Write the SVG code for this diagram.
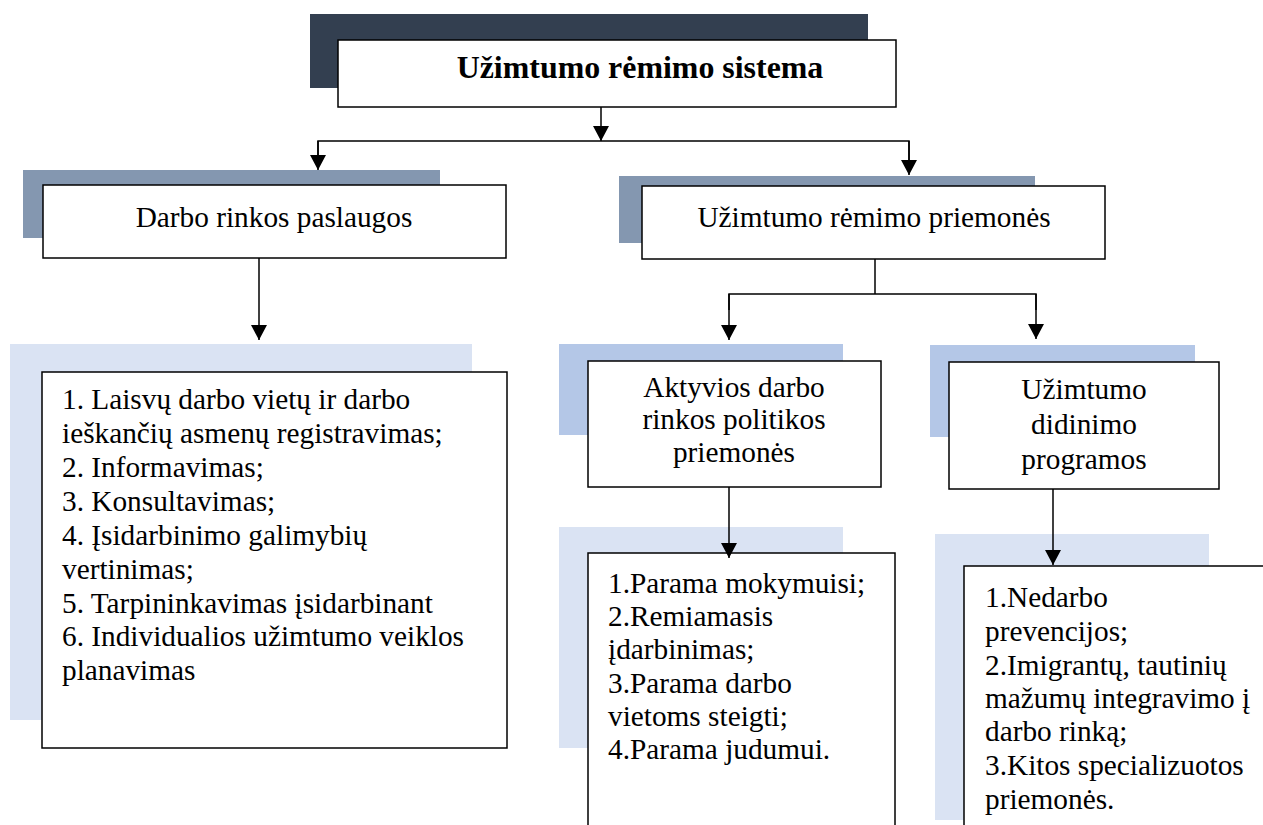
<svg xmlns="http://www.w3.org/2000/svg" width="1263" height="825" viewBox="0 0 1263 825">
<defs>
<marker id="arr" markerUnits="userSpaceOnUse" markerWidth="15" markerHeight="16" refX="15" refY="8" orient="auto" viewBox="0 0 15 16">
<path d="M0,0 L15,8 L0,16 Z" fill="#000"/>
</marker>
<style>
.box{fill:#fff;stroke:#000;stroke-width:1.5}
.sd{fill:#333f50}
.sm{fill:#8497b0}
.sl{fill:#dae3f3}
.sb{fill:#b4c7e7}
text{font-family:'Liberation Serif','Times New Roman',serif;fill:#000}
.t{font-size:29.3px}
.c{text-anchor:middle}
.ttl{font-size:31.9px;font-weight:bold;text-anchor:middle}
.ln{stroke:#000;stroke-width:1.5;fill:none}
.la{stroke:#000;stroke-width:1.5;fill:none;marker-end:url(#arr)}
</style>
</defs>
<rect width="1263" height="825" fill="#fff"/>

<g id="connectors">
<line class="la" x1="601" y1="107" x2="601" y2="141"/>
<polyline class="ln" points="318,156 318,141 909,141 909,160"/>
<line class="la" x1="318" y1="141" x2="318" y2="170"/>
<line class="la" x1="909" y1="141" x2="909" y2="175"/>
<line class="la" x1="259" y1="258" x2="259" y2="340"/>
<polyline class="ln" points="875,259 875,294"/>
<polyline class="ln" points="729,310 729,294 1036,294 1036,310"/>
<line class="la" x1="729" y1="294" x2="729" y2="340"/>
<line class="la" x1="1036" y1="294" x2="1036" y2="339"/>
</g>

<g id="n-system">
<rect class="sd" x="310" y="14" width="558" height="74"/>
<rect class="box" x="338" y="40" width="558" height="67"/>
<text class="ttl" x="640" y="78">Užimtumo rėmimo sistema</text>
</g>

<g id="n-paslaugos">
<rect class="sm" x="23" y="170" width="417" height="68"/>
<rect class="box" x="43" y="185" width="463" height="73"/>
<text class="t c" x="274" y="227">Darbo rinkos paslaugos</text>
</g>

<g id="n-priemones">
<rect class="sm" x="619" y="176" width="416" height="67"/>
<rect class="box" x="642" y="186" width="463" height="73"/>
<text class="t c" x="874" y="227">Užimtumo rėmimo priemonės</text>
</g>

<g id="n-paslaugos-list">
<rect class="sl" x="10" y="344" width="462" height="376"/>
<rect class="box" x="42" y="372" width="465" height="376"/>
<text class="t" x="62" y="409">1. Laisvų darbo vietų ir darbo</text>
<text class="t" x="62" y="443">ieškančių asmenų registravimas;</text>
<text class="t" x="62" y="477">2. Informavimas;</text>
<text class="t" x="62" y="511">3. Konsultavimas;</text>
<text class="t" x="62" y="545">4. Įsidarbinimo galimybių</text>
<text class="t" x="62" y="579">vertinimas;</text>
<text class="t" x="62" y="613">5. Tarpininkavimas įsidarbinant</text>
<text class="t" x="62" y="646">6. Individualios užimtumo veiklos</text>
<text class="t" x="62" y="680">planavimas</text>
</g>

<g id="n-aktyvios">
<rect class="sb" x="559" y="344" width="284" height="91"/>
<rect class="box" x="588" y="361" width="293" height="126"/>
<text class="t c" x="734" y="397">Aktyvios darbo</text>
<text class="t c" x="734" y="429">rinkos politikos</text>
<text class="t c" x="734" y="462">priemonės</text>
</g>

<g id="n-didinimo">
<rect class="sb" x="930" y="345" width="265" height="92"/>
<rect class="box" x="949" y="362" width="270" height="127"/>
<text class="t c" x="1084" y="399">Užimtumo</text>
<text class="t c" x="1084" y="434">didinimo</text>
<text class="t c" x="1084" y="469">programos</text>
</g>

<g id="n-aktyvios-list">
<rect class="sl" x="559" y="527" width="284" height="221"/>
<rect class="box" x="588" y="553" width="307" height="290"/>
<text class="t" x="608" y="593">1.Parama mokymuisi;</text>
<text class="t" x="608" y="626">2.Remiamasis</text>
<text class="t" x="608" y="659">įdarbinimas;</text>
<text class="t" x="608" y="693">3.Parama darbo</text>
<text class="t" x="608" y="726">vietoms steigti;</text>
<text class="t" x="608" y="759">4.Parama judumui.</text>
</g>

<g id="n-didinimo-list">
<rect class="sl" x="935" y="534" width="274" height="286"/>
<rect class="box" x="964" y="566" width="320" height="280"/>
<text class="t" x="985" y="607">1.Nedarbo</text>
<text class="t" x="985" y="641">prevencijos;</text>
<text class="t" x="985" y="675">2.Imigrantų, tautinių</text>
<text class="t" x="985" y="708">mažumų integravimo į</text>
<text class="t" x="985" y="741">darbo rinką;</text>
<text class="t" x="985" y="775">3.Kitos specializuotos</text>
<text class="t" x="985" y="809">priemonės.</text>
</g>

<g id="connectors-lower">
<line class="la" x1="729" y1="487" x2="729" y2="558"/>
<line class="la" x1="1053" y1="489" x2="1053" y2="565"/>
</g>
</svg>
